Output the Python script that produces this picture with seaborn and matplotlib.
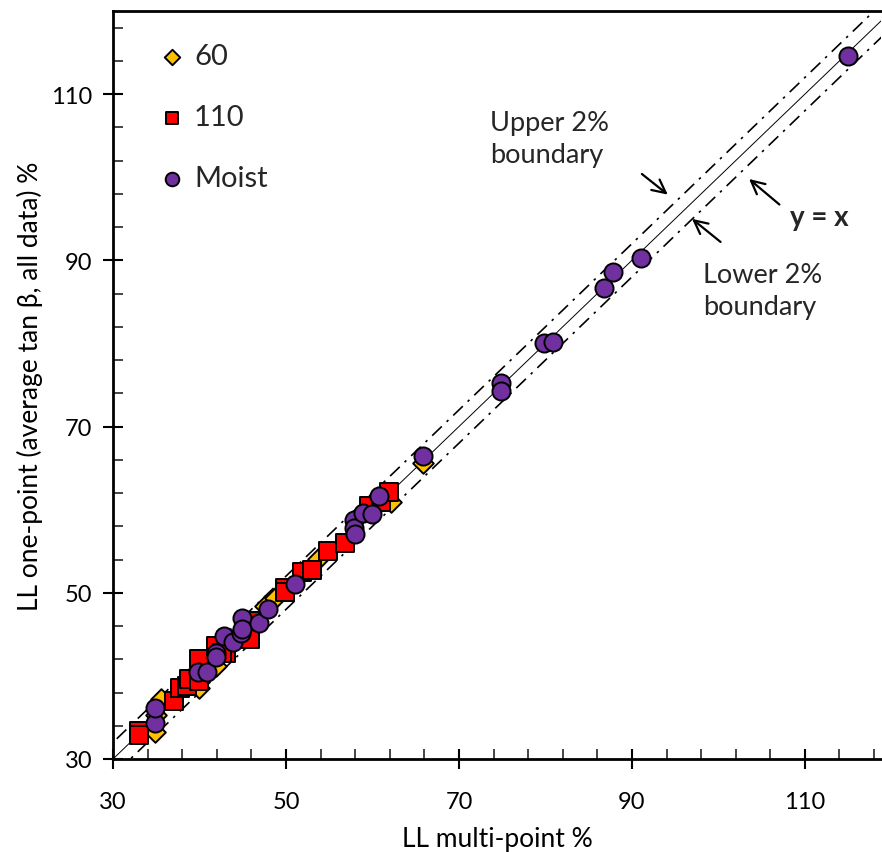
import numpy as np
import pandas as pd
import seaborn as sns
import matplotlib.pyplot as plt
from matplotlib.ticker import MultipleLocator

# data (LL multi-point %, LL one-point %)
x_60 = [34.9, 35.0, 35.6, 40.0, 41.9, 47.6, 48.7, 53.7, 62.1, 65.9]
y_60 = [33.2, 35.3, 37.2, 38.6, 41.2, 48.4, 49.4, 54.1, 60.9, 65.6]

x_110 = [33.0, 33.0, 37.0, 37.7, 38.5, 38.8, 40.0, 39.9, 41.9, 43.1, 42.6,
         45.8, 45.8, 49.9, 49.9, 51.8, 53.0, 54.9, 56.8, 59.6, 61.0, 61.9]
y_110 = [33.4, 32.9, 37.0, 38.6, 38.8, 39.6, 39.4, 42.0, 43.6, 42.8, 42.8,
         46.6, 44.4, 50.6, 50.1, 52.5, 52.8, 55.0, 56.0, 60.5, 60.9, 62.1]

x_moist = [34.9, 34.9, 39.8, 40.9, 41.9, 41.9, 42.8, 43.9, 44.8, 44.9, 44.9,
           46.9, 47.9, 51.0, 57.9, 57.9, 58.0, 58.9, 59.9, 60.8, 65.9, 74.9,
           74.9, 79.8, 80.9, 86.8, 87.8, 91.0, 115.0]
y_moist = [34.3, 36.1, 40.5, 40.5, 42.8, 42.3, 44.8, 44.1, 45.2, 47.0, 45.6,
           46.4, 48.0, 51.0, 58.7, 57.8, 57.1, 59.6, 59.5, 61.7, 66.5, 75.2,
           74.3, 80.1, 80.2, 86.7, 88.6, 90.3, 114.6]

major_ticks = [30, 50, 70, 90, 110]
boundary = 2.0  # +/- 2% band around y = x
line_x = [28, 125]

sns.set_theme(style="ticks")
plt.rcParams['font.family'] = ['Lato', 'DejaVu Sans']

fig = plt.figure(figsize=(8.82, 8.53), dpi=100)
ax = fig.add_axes([113 / 882, 93 / 853, 768 / 882, 748 / 853])

# reference lines
dashdot = (0, (8, 4, 1.5, 4))
ax.plot(line_x, line_x, color="black", lw=0.7, zorder=1)
ax.plot(line_x, [v + boundary for v in line_x], color="black", lw=1.2,
        ls=dashdot, zorder=1)
ax.plot(line_x, [v - boundary for v in line_x], color="black", lw=1.2,
        ls=dashdot, zorder=1)

sns.scatterplot(x=x_60, y=y_60, ax=ax, marker="D", color="#FFC000", s=110,
                edgecolor="black", linewidth=1.4, label="60", zorder=3)
sns.scatterplot(x=x_110, y=y_110, ax=ax, marker="s", color="#FF0000", s=150,
                edgecolor="black", linewidth=1.4, label="110", zorder=4)
sns.scatterplot(x=x_moist, y=y_moist, ax=ax, marker="o", color="#7030A0", s=170,
                edgecolor="black", linewidth=1.4, label="Moist", zorder=5)

ax.set_xlim(30, 118.8)
ax.set_ylim(30, 120)
ax.set_xticks(major_ticks)
ax.set_yticks(major_ticks)
ax.xaxis.set_minor_locator(MultipleLocator(4, offset=2))
ax.yaxis.set_minor_locator(MultipleLocator(4, offset=2))
ax.tick_params(which="major", direction="inout", length=14, width=1.5,
               labelsize=17, colors="black", pad=8)
ax.tick_params(axis="x", which="major", pad=16)
ax.tick_params(which="minor", direction="in", length=7, width=1.2)
for side in ["left", "bottom", "top"]:
    ax.spines[side].set_visible(True)
    ax.spines[side].set_linewidth(2)
    ax.spines[side].set_color("black")
ax.spines["right"].set_visible(False)

ax.set_xlabel("LL multi-point %", fontsize=19, labelpad=10, color="black")
ax.set_ylabel("LL one-point (average tan β, all data) %", fontsize=19,
              labelpad=6, color="black")

leg = ax.legend(loc="upper left", frameon=False, fontsize=21,
                bbox_to_anchor=(0.058, 0.957), labelspacing=1.2,
                handlelength=1.0, handletextpad=0.25, markerscale=0.75,
                borderaxespad=0, borderpad=0)

# annotations
ax.text(73.6, 104.6, "Upper 2%\nboundary", fontsize=19.5, va="center",
        ha="left", linespacing=1.35)
ax.text(98.2, 86.4, "Lower 2%\nboundary", fontsize=19.5, va="center",
        ha="left", linespacing=1.35)
ax.text(108.3, 95.2, "y = x", fontsize=20, fontweight="bold", va="center",
        ha="left")
arrow = dict(arrowstyle="->", lw=1.6, color="black", mutation_scale=24)
ax.annotate("", xy=(94.4, 97.7), xytext=(90.9, 100.6), arrowprops=arrow)
ax.annotate("", xy=(96.7, 95.2), xytext=(100.5, 92.0), arrowprops=arrow)
ax.annotate("", xy=(103.3, 100.0), xytext=(107.3, 96.5), arrowprops=arrow)

fig.savefig("out.png", dpi=100)
